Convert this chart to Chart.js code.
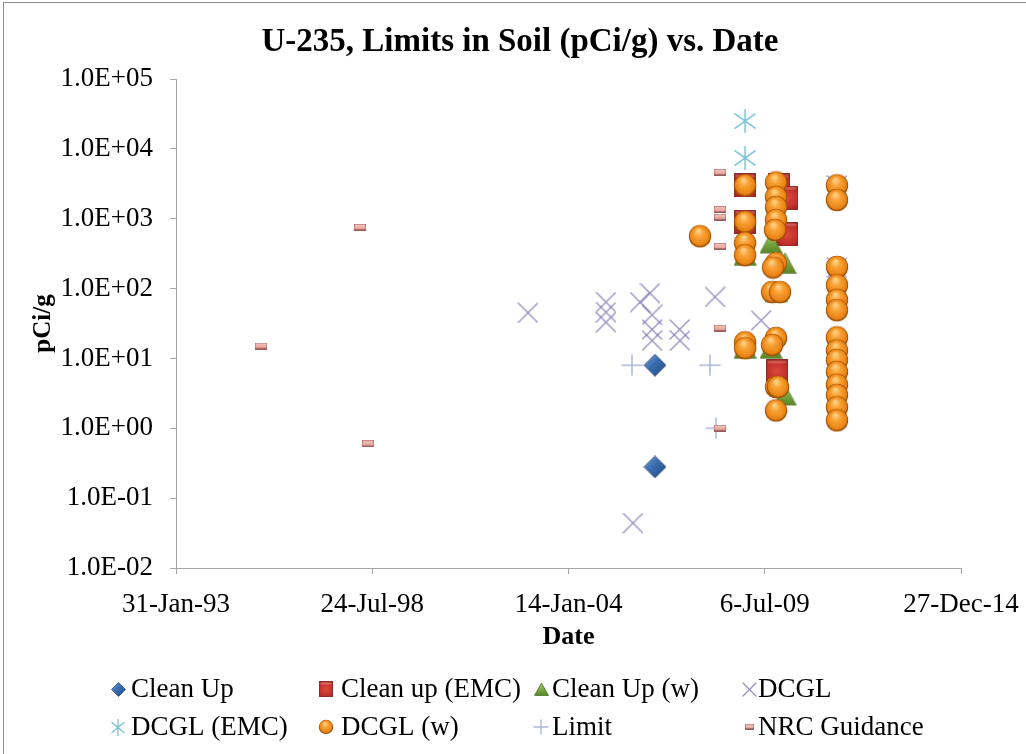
<!DOCTYPE html>
<html>
<head>
<meta charset="utf-8">
<title>U-235, Limits in Soil (pCi/g) vs. Date</title>
<script src="https://cdn.jsdelivr.net/npm/chart.js@4/dist/chart.umd.min.js"></script>
<style>
  html, body { margin: 0; padding: 0; background: #fff; }
  #wrap { position: relative; width: 1026px; height: 754px; overflow: hidden; }
  #frame { position: absolute; left: 3px; top: 2px; width: 1040px; height: 760px; border: 1px solid #8c8c8c; box-sizing: border-box; pointer-events: none; }
  canvas { display: block; }
</style>
</head>
<body>
<div id="wrap">
  <canvas id="chart" width="1026" height="754"></canvas>
  <div id="frame"></div>
</div>
<script>
// ---- data: sample dates and U-235 soil limits (pCi/g) per source ----
const chartTitle = 'U-235, Limits in Soil (pCi/g) vs. Date';
const seriesNames = ['Clean Up', 'Clean up (EMC)', 'Clean Up (w)', 'DCGL',
                     'DCGL (EMC)', 'DCGL (w)', 'Limit', 'NRC Guidance'];

const cleanUpDates = ['2006-06-13', '2006-06-13'];
const cleanUpValues = [8, 0.28];

const cleanUpEmcDates = ['2008-12-18', '2008-12-18', '2009-11-29', '2010-02-18', '2010-02-18', '2009-11-08'];
const cleanUpEmcValues = [3000, 900, 3000, 2000, 600, 6.5];

const cleanUpWDates = ['2008-12-18', '2008-12-18', '2009-09-08', '2010-01-29', '2009-10-29', '2009-09-08', '2010-01-29'];
const cleanUpWValues = [300, 14, 450, 230, 90, 14, 3];

const dcglDates = ['2002-11-27', '2005-01-30', '2005-01-30', '2005-01-30', '2006-01-12', '2006-04-23',
                   '2006-05-14', '2006-05-14', '2006-05-14', '2007-02-20', '2007-02-23', '2008-02-15',
                   '2009-05-29', '2005-11-01', '2011-07-12', '2011-07-12'];
const dcglValues = [45, 64, 46, 33, 64, 86, 42, 26, 18, 26, 18, 76, 35, 0.044, 3000, 200];

const dcglEmcDates = ['2008-12-18', '2008-12-18'];
const dcglEmcValues = [25000, 7400];

const dcglWDates = ['2007-09-15',
  '2008-12-18', '2008-12-18', '2008-12-18', '2008-12-18', '2008-12-18', '2008-12-18',
  '2009-10-29', '2009-10-29', '2009-10-29', '2009-10-29', '2009-10-19', '2009-10-29', '2009-09-29',
  '2009-09-19', '2009-12-08', '2009-10-29', '2009-09-19', '2009-10-29', '2009-11-18', '2009-10-29',
  '2011-07-12', '2011-07-12', '2011-07-12', '2011-07-12', '2011-07-12', '2011-07-12', '2011-07-12',
  '2011-07-12', '2011-07-12', '2011-07-12', '2011-07-12', '2011-07-12', '2011-07-12', '2011-07-12'];
const dcglWValues = [560,
  3000, 900, 450, 300, 17, 14,
  3300, 2050, 1470, 960, 690, 230, 200,
  89, 89, 19.6, 15.6, 3.9, 3.9, 1.8,
  3000, 1850, 204, 112, 69, 49, 20, 13, 9.5, 6.4, 4.2, 3.0, 2.0, 1.3];

const limitDates = ['2005-10-22', '2007-12-26', '2008-02-25'];
const limitValues = [8, 8, 1];

const nrcDates = ['1995-06-16', '1998-03-21', '1998-06-11', '2008-04-06', '2008-04-06',
                  '2008-04-06', '2008-04-06', '2008-04-06', '2008-04-06'];
const nrcValues = [15, 750, 0.6, 4600, 1350, 1050, 400, 27, 1];

// axis ticks: serial day numbers (days since 30-Dec-1899) and decades
const xTickSerials = [34000, 36000, 38000, 40000, 42000];
const yTickValues = [1e-2, 1e-1, 1e0, 1e1, 1e2, 1e3, 1e4, 1e5];

// ---- helpers ----
const DAY_MS = 86400000;
const EPOCH = Date.UTC(1899, 11, 30);
const MONTHS = ['Jan','Feb','Mar','Apr','May','Jun','Jul','Aug','Sep','Oct','Nov','Dec'];
function toSerial(iso) {
  const [y, m, d] = iso.split('-').map(Number);
  return Math.round((Date.UTC(y, m - 1, d) - EPOCH) / DAY_MS);
}
function serialLabel(s) {
  const d = new Date(EPOCH + s * DAY_MS);
  return d.getUTCDate() + '-' + MONTHS[d.getUTCMonth()] + '-' + String(d.getUTCFullYear()).slice(-2);
}
function sciLabel(v) {
  const e = Math.round(Math.log10(v));
  return '1.0E' + (e < 0 ? '-' : '+') + String(Math.abs(e)).padStart(2, '0');
}
function points(dates, values) {
  return dates.map((d, i) => ({ x: toSerial(d), y: values[i] }));
}

// ---- marker sprites ----
function sprite(w, h, paint) {
  const c = document.createElement('canvas');
  c.width = w; c.height = h;
  paint(c.getContext('2d'), w, h);
  return c;
}
function diamond(s) {
  return sprite(s, s, (g, w, h) => {
    const gr = g.createLinearGradient(0, 0, w, h);
    gr.addColorStop(0, '#7ba6dc'); gr.addColorStop(0.45, '#3a6db0'); gr.addColorStop(1, '#1b467f');
    g.beginPath(); g.moveTo(w / 2, 0.5); g.lineTo(w - 0.5, h / 2); g.lineTo(w / 2, h - 0.5); g.lineTo(0.5, h / 2); g.closePath();
    g.fillStyle = gr; g.fill();
    g.strokeStyle = 'rgba(30,60,110,0.7)'; g.lineWidth = 1; g.stroke();
  });
}
function square(w, h) {
  return sprite(w, h, (g) => {
    const gr = g.createRadialGradient(w / 2, h / 2, 1, w / 2, h / 2, Math.max(w, h) * 0.7);
    gr.addColorStop(0, '#d8453b'); gr.addColorStop(0.6, '#c0302a'); gr.addColorStop(1, '#8a1814');
    g.fillStyle = gr; g.fillRect(0.5, 0.5, w - 1, h - 1);
    g.strokeStyle = 'rgba(120,20,15,0.8)'; g.lineWidth = 1; g.strokeRect(0.5, 0.5, w - 1, h - 1);
    g.fillStyle = 'rgba(255,200,190,0.35)'; g.fillRect(1.5, 1.5, w - 3, 2);
  });
}
function triangle(s) {
  return sprite(s, s, (g, w, h) => {
    const gr = g.createLinearGradient(0, 0, 0, h);
    gr.addColorStop(0, '#9fcf62'); gr.addColorStop(0.5, '#79a941'); gr.addColorStop(1, '#557f25');
    g.beginPath(); g.moveTo(w / 2, 1); g.lineTo(w - 0.5, h - 1.5); g.lineTo(0.5, h - 1.5); g.closePath();
    g.fillStyle = gr; g.fill();
    g.strokeStyle = 'rgba(70,105,30,0.7)'; g.lineWidth = 1; g.stroke();
  });
}
function ball(s) {
  return sprite(s, s, (g, w, h) => {
    const r = w / 2 - 0.8, cx = w / 2, cy = h / 2;
    g.beginPath(); g.arc(cx, cy, r, 0, Math.PI * 2);
    g.fillStyle = '#9a5206'; g.fill();
    const gr = g.createRadialGradient(cx - r * 0.15, cy - r * 0.5, r * 0.1, cx, cy, r);
    gr.addColorStop(0, '#ffcf80'); gr.addColorStop(0.35, '#f8a236'); gr.addColorStop(0.8, '#ec8516'); gr.addColorStop(1, '#c9680c');
    g.beginPath(); g.arc(cx, cy - 0.5, r - 0.8, 0, Math.PI * 2);
    g.fillStyle = gr; g.fill();
  });
}
function cross(s, color, lw) {
  return sprite(s, s, (g, w, h) => {
    g.strokeStyle = color; g.lineWidth = lw; g.lineCap = 'round';
    g.beginPath(); g.moveTo(1, 1); g.lineTo(w - 1, h - 1); g.moveTo(w - 1, 1); g.lineTo(1, h - 1); g.stroke();
  });
}
function asterisk(w, h, color, lw) {
  return sprite(w, h, (g) => {
    g.strokeStyle = color; g.lineWidth = lw; g.lineCap = 'round';
    const dy = h * 0.2;
    g.beginPath();
    g.moveTo(w / 2, 0.5); g.lineTo(w / 2, h - 0.5);
    g.moveTo(1, dy); g.lineTo(w - 1, h - dy);
    g.moveTo(w - 1, dy); g.lineTo(1, h - dy);
    g.stroke();
  });
}
function plus(s, color, lw) {
  return sprite(s, s, (g, w, h) => {
    g.strokeStyle = color; g.lineWidth = lw;
    g.beginPath(); g.moveTo(w / 2, 0.5); g.lineTo(w / 2, h - 0.5); g.moveTo(0.5, h / 2); g.lineTo(w - 0.5, h / 2); g.stroke();
  });
}
function dash(w, h) {
  return sprite(w, h, (g) => {
    g.fillStyle = '#9c5a58'; g.fillRect(0, 0, w, h);
    const gr = g.createLinearGradient(0, 0, 0, h);
    gr.addColorStop(0, '#f6c8c0'); gr.addColorStop(1, '#e0968e');
    g.fillStyle = gr; g.fillRect(0.5, 0.5, w - 1, h - 2.2);
  });
}

const plotMarkers = [
  diamond(23), square(22, 24), triangle(23), cross(21, 'rgba(125,112,175,0.8)', 1.3),
  asterisk(22, 24, '#78c3d6', 1.5), ball(24), plus(22, '#aab6d6', 1.5), dash(12, 7)
];
const legendMarkers = [
  diamond(15), square(14, 16), triangle(15), cross(15, 'rgba(125,112,175,0.8)', 1.2),
  asterisk(14, 17, '#78c3d6', 1.3), ball(16), plus(16, '#aab6d6', 1.3), dash(9, 6)
];

const seriesData = [
  points(cleanUpDates, cleanUpValues),
  points(cleanUpEmcDates, cleanUpEmcValues),
  points(cleanUpWDates, cleanUpWValues),
  points(dcglDates, dcglValues),
  points(dcglEmcDates, dcglEmcValues),
  points(dcglWDates, dcglWValues),
  points(limitDates, limitValues),
  points(nrcDates, nrcValues)
];

// later series sit on top of earlier ones
const datasets = seriesNames.map((name, i) => ({
  label: name,
  data: seriesData[i],
  pointStyle: plotMarkers[i],
  pointRadius: 10,
  pointHoverRadius: 10,
  showLine: false,
  order: seriesNames.length - i
}));

const serif = '"Liberation Serif", "Times New Roman", serif';

// ---- title centred over the whole frame ----
const frameTitle = {
  id: 'frameTitle',
  afterDraw(chart) {
    const ctx = chart.ctx;
    ctx.save();
    ctx.font = 'bold 33px ' + serif;
    ctx.fillStyle = '#000';
    ctx.textAlign = 'center';
    ctx.textBaseline = 'middle';
    ctx.fillText(chartTitle, 520, 42);
    ctx.restore();
  }
};

// ---- legend laid out in a 4 x 2 grid under the axis ----
const legendColsMarker = [118, 326, 541, 749];
const legendColsText = [131, 341, 552, 758];
const legendRows = [689, 727];

const gridLegend = {
  id: 'gridLegend',
  afterDraw(chart) {
    const ctx = chart.ctx;
    ctx.save();
    ctx.font = '27px ' + serif;
    ctx.fillStyle = '#000';
    ctx.textBaseline = 'middle';
    ctx.textAlign = 'left';
    chart.data.datasets.forEach((ds, i) => {
      const col = i % 4, row = Math.floor(i / 4);
      const m = legendMarkers[i];
      const y = legendRows[row];
      ctx.drawImage(m, Math.round(legendColsMarker[col] - m.width / 2), Math.round(y - m.height / 2));
      ctx.fillText(ds.label, legendColsText[col], y + 1);
    });
    ctx.restore();
  }
};

const axisGray = '#a6a6a6';

new Chart(document.getElementById('chart'), {
  type: 'scatter',
  data: { datasets },
  options: {
    responsive: false,
    animation: false,
    events: [],
    layout: { padding: { left: 0, right: 65, top: 79, bottom: 0 } },
    plugins: {
      legend: { display: false },
      tooltip: { enabled: false },
      title: { display: false }
    },
    scales: {
      x: {
        type: 'linear',
        position: 'bottom',
        min: xTickSerials[0],
        max: xTickSerials[xTickSerials.length - 1],
        afterBuildTicks: (scale) => { scale.ticks = xTickSerials.map(v => ({ value: v })); },
        afterFit: (scale) => { scale.height = 186; scale.paddingLeft = 0; scale.paddingRight = 0; },
        grid: { drawOnChartArea: false, drawTicks: true, tickLength: 6, color: axisGray },
        border: { color: axisGray, width: 1 },
        ticks: {
          color: '#000',
          font: { family: serif, size: 27 },
          padding: 15,
          maxRotation: 0,
          autoSkip: false,
          callback: (v) => serialLabel(v)
        },
        title: {
          display: true,
          text: 'Date',
          color: '#000',
          font: { family: serif, size: 26, weight: 'bold' },
          padding: { top: 0, bottom: 101 }
        }
      },
      y: {
        type: 'logarithmic',
        position: 'left',
        min: yTickValues[0],
        max: yTickValues[yTickValues.length - 1],
        afterBuildTicks: (scale) => { scale.ticks = yTickValues.map(v => ({ value: v })); },
        afterFit: (scale) => { scale.width = 176; scale.paddingTop = 0; scale.paddingBottom = 0; },
        grid: { drawOnChartArea: false, drawTicks: true, tickLength: 6, color: axisGray },
        border: { color: axisGray, width: 1 },
        ticks: {
          color: '#000',
          font: { family: serif, size: 27 },
          padding: 17,
          autoSkip: false,
          callback: (v) => sciLabel(v)
        },
        title: {
          display: true,
          text: 'pCi/g',
          color: '#000',
          font: { family: serif, size: 25, weight: 'bold' },
          padding: { top: 29, bottom: 0 }
        }
      }
    }
  },
  plugins: [frameTitle, gridLegend]
});
</script>
</body>
</html>
